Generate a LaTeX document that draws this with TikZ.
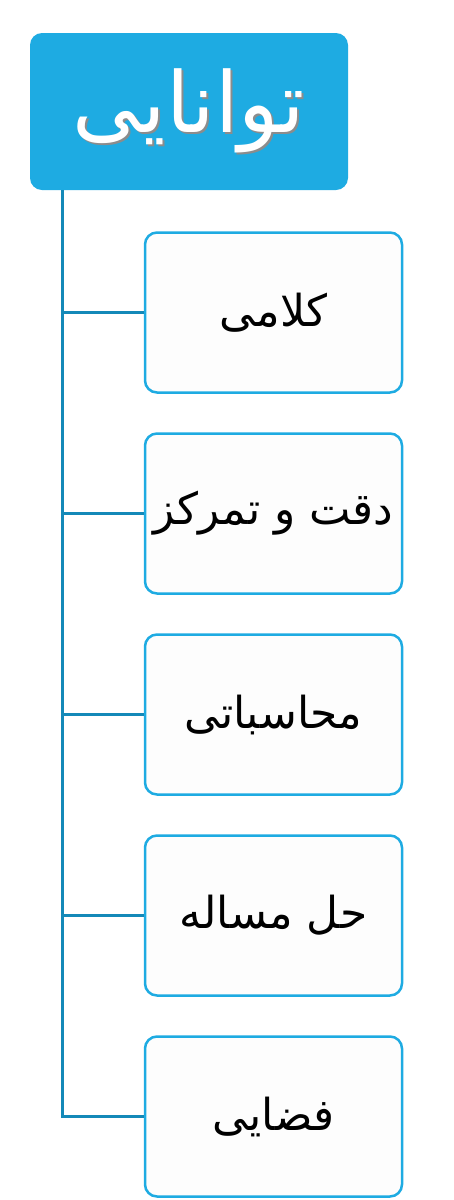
\documentclass[tikz,border=0pt]{standalone}
\usepackage{fontspec}
\TeXXeTstate=1
\newfontfamily\arabicfont[Script=Arabic]{DejaVu Sans}
\definecolor{boxblue}{HTML}{1EABE2}
\definecolor{lineblue}{HTML}{1489B8}
\definecolor{boxfill}{HTML}{FDFDFD}
\tikzset{
  x=1pt,y=-1pt,
  childbox/.style={draw=boxblue,line width=2.5pt,fill=boxfill,rounded corners=12pt,
    minimum width=257pt,minimum height=160pt,inner sep=0pt,
    font=\arabicfont\fontsize{44}{50}\selectfont},
  conn/.style={draw=lineblue,line width=3pt},
  titlefont/.style={font=\arabicfont\fontsize{84}{90}\selectfont,inner sep=0pt},
}
\begin{document}
\begin{tikzpicture}
\useasboundingbox (0,0) rectangle (454,1200);
\node[fill=boxblue,rounded corners=12pt,minimum width=318pt,minimum height=157pt,inner sep=0pt] (top) at (189,111.5) {};
\node[titlefont,text=black!45] (topsh) at (191,113) {\beginR توانایی\endR};
\node[titlefont,text=white] (toptxt) at (189,111) {\beginR توانایی\endR};
\node[childbox] (c1) at (273.5,312.5) {\beginR کلامی\endR};
\node[childbox] (c2) at (273.5,513.5) {\beginR دقت و تمرکز\endR};
\node[childbox] (c3) at (273.5,714.5) {\beginR محاسباتی\endR};
\node[childbox] (c4) at (273.5,915.5) {\beginR حل مساله\endR};
\node[childbox] (c5) at (273.5,1116.5) {\beginR فضایی\endR};
\coordinate (vtop) at (62,190);
\draw[conn] (vtop) |- (c5.west);
\foreach \i in {1,2,3,4}{
  \draw[conn] (c\i.west) -- (c\i.west -| vtop);
}
\end{tikzpicture}
\end{document}
